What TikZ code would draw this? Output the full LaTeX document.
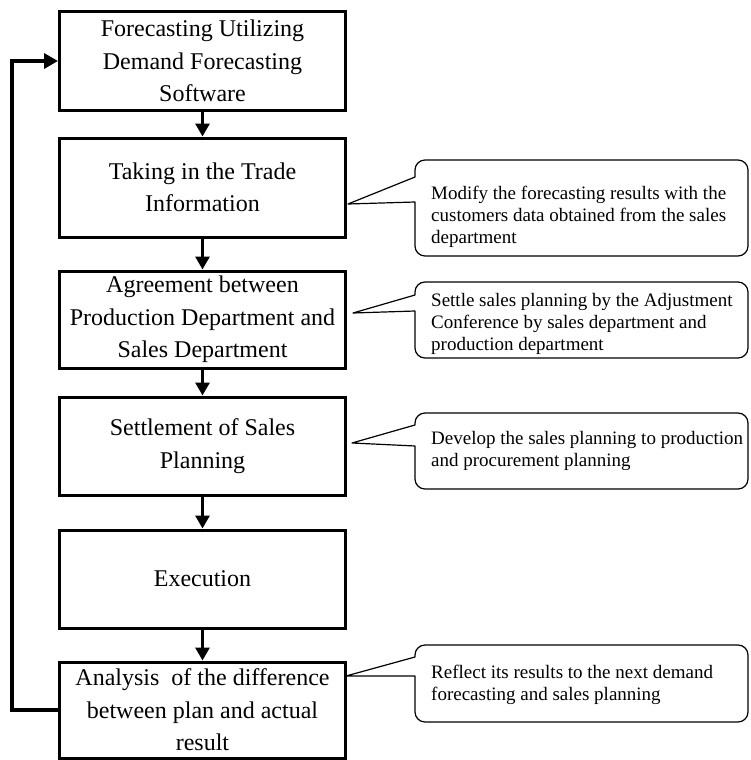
\documentclass[tikz,border=0pt]{standalone}
\usepackage{fontspec}
\setmainfont{Liberation Serif}
\usetikzlibrary{arrows.meta}
\begin{document}
\begin{tikzpicture}[x=1pt,y=-1pt,
  stepbox/.style={draw, line width=3pt, minimum width=286pt, minimum height=#1,
    inner sep=2pt, align=center, font=\fontsize{24}{32.5}\selectfont},
  flow/.style={line width=3pt, -{Triangle[width=14pt,length=13pt]}},
  loopback/.style={line width=4pt, -{Triangle[width=15pt,length=14pt]}},
  note/.style={anchor=north west, inner sep=0pt, align=left,
    font=\fontsize{19}{22}\selectfont},
  bubble/.style={line width=1.2pt, line join=round}]
\useasboundingbox (0,0) rectangle (750,760);

% process steps
\node[stepbox=98pt] (b1) at (202.5,61)
  {Forecasting Utilizing\\Demand Forecasting\\Software};
\node[stepbox=99pt] (b2) at (202.5,187.5)
  {Taking in the Trade\\Information};
\node[stepbox=97pt] (b3) at (202.5,319.5)
  {Agreement between\\Production Department and\\Sales Department};
\node[stepbox=98pt] (b4) at (202.5,446)
  {Settlement of Sales\\Planning};
\node[stepbox=98pt] (b5) at (202.5,579)
  {Execution};
\node[stepbox=96pt] (b6) at (202.5,710)
  {Analysis\ \ of the difference\\between plan and actual\\result};

% flow between steps
\draw[flow] (b1.south) -- (b2.north);
\draw[flow] (b2.south) -- (b3.north);
\draw[flow] (b3.south) -- (b4.north);
\draw[flow] (b4.south) -- (b5.north);
\draw[flow] (b5.south) -- (b6.north);

% feedback loop
\draw[loopback] (b6.west) -- ++(-46.5,0) |- (b1.west);

% explanatory callouts
\draw[bubble] (348,204) -- (415,177) [rounded corners=10pt] -- (415,160)
  -- (748,160) -- (748,256) -- (415,256) [sharp corners] -- (415,202) -- cycle;
\node[note] (n1) at (431,186)
  {Modify the forecasting results with the\\customers data obtained from the sales\\department};

\draw[bubble] (353,313) -- (415,295) [rounded corners=10pt] -- (415,282)
  -- (748,282) -- (748,358) -- (415,358) [sharp corners] -- (415,311) -- cycle;
\node[note] (n2) at (431,293)
  {Settle sales planning by the Adjustment\\Conference by sales department and\\production department};

\draw[bubble] (352,443) -- (415,425) [rounded corners=10pt] -- (415,413)
  -- (748,413) -- (748,489) -- (415,489) [sharp corners] -- (415,446) -- cycle;
\node[note] (n3) at (431,431)
  {Develop the sales planning to production\\and procurement planning};

\draw[bubble] (346,676) -- (415,657) [rounded corners=10pt] -- (415,645)
  -- (748,645) -- (748,722) -- (415,722) [sharp corners] -- (415,676) -- cycle;
\node[note] (n4) at (431,665)
  {Reflect its results to the next demand\\forecasting and sales planning};
\end{tikzpicture}
\end{document}
